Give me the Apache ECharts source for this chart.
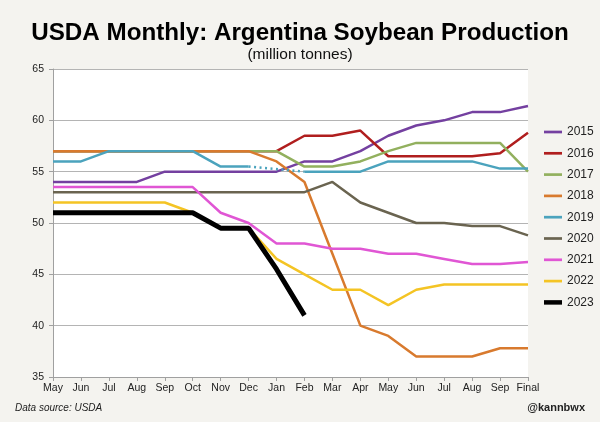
<!DOCTYPE html>
<html>
<head>
<meta charset="utf-8">
<script src="https://cdn.jsdelivr.net/npm/echarts@6/dist/echarts.min.js"></script>
<style>
  html, body { margin: 0; padding: 0; background: #f4f3ef; }
  #chart { width: 600px; height: 422px; }
</style>
</head>
<body>
<div id="chart"></div>
<script>
// USDA monthly estimates, Argentina soybean production (million tonnes)
const months = ['May', 'Jun', 'Jul', 'Aug', 'Sep', 'Oct', 'Nov', 'Dec', 'Jan', 'Feb',
    'Mar', 'Apr', 'May ', 'Jun ', 'Jul ', 'Aug ', 'Sep ', 'Final'];
const years = ['2015', '2016', '2017', '2018', '2019', '2020', '2021', '2022', '2023'];

const y2015 = [54, 54, 54, 54, 55, 55, 55, 55, 55, 56, 56, 57, 58.5, 59.5, 60, 60.8, 60.8, 61.4];
const y2016 = [57, 57, 57, 57, 57, 57, 57, 57, 57, 58.5, 58.5, 59, 56.5, 56.5, 56.5, 56.5, 56.8, 58.8];
const y2017 = [57, 57, 57, 57, 57, 57, 57, 57, 57, 55.5, 55.5, 56, 57, 57.8, 57.8, 57.8, 57.8, 55];
const y2018 = [57, 57, 57, 57, 57, 57, 57, 57, 56, 54, 47, 40, 39, 37, 37, 37, 37.8, 37.8];
const y2019 = [56, 56, 57, 57, 57, 57, 55.5, 55.5, null, 55, 55, 55, 56, 56, 56, 56, 55.3, 55.3];
// Dec -> Feb dotted bridge for 2019 (no January estimate)
const y2019gap = [null, null, null, null, null, null, null, 55.5, null, 55, null, null, null, null, null, null, null, null];
const y2020 = [53, 53, 53, 53, 53, 53, 53, 53, 53, 53, 54, 52, 51, 50, 50, 49.7, 49.7, 48.8];
const y2021 = [53.5, 53.5, 53.5, 53.5, 53.5, 53.5, 51, 50, 48, 48, 47.5, 47.5, 47, 47, 46.5, 46, 46, 46.2];
const y2022 = [52, 52, 52, 52, 52, 51, 49.5, 49.5, 46.5, 45, 43.5, 43.5, 42, 43.5, 44, 44, 44, 44];
const y2023 = [51, 51, 51, 51, 51, 51, 49.5, 49.5, 45.5, 41];

const yTicks = { min: 35, max: 65, interval: 5 };
const colors = ['#7440a0', '#b01e1e', '#92b05e', '#d87a2e', '#4ba3bd', '#6a6450', '#e056d4', '#f4c424', '#000000'];

const seriesData = [y2015, y2016, y2017, y2018, y2019, y2020, y2021, y2022, y2023];

const chart = echarts.init(document.getElementById('chart'));

const series = seriesData.map((d, i) => ({
    name: years[i],
    type: 'line',
    data: d,
    symbol: 'none',
    connectNulls: false,
    z: 2 + i,
    lineStyle: {
        width: years[i] === '2023' ? 5 : 2.5,
        color: colors[i]
    },
    itemStyle: { color: colors[i] }
}));
series.splice(5, 0, {
    name: '2019 gap',
    type: 'line',
    data: y2019gap,
    symbol: 'none',
    connectNulls: true,
    z: 6,
    lineStyle: { width: 2.5, color: colors[4], type: [2, 3.5] }
});

const option = {
    backgroundColor: '#f4f3ef',
    animation: false,
    title: [
        {
            text: 'USDA Monthly: Argentina Soybean Production',
            left: 'center',
            top: 16,
            textStyle: { fontFamily: 'Liberation Sans', fontWeight: 'bold', fontSize: 24.2, color: '#000' }
        },
        {
            text: '(million tonnes)',
            left: 'center',
            top: 42,
            textStyle: { fontFamily: 'Liberation Sans', fontWeight: 'normal', fontSize: 15.5, color: '#111' }
        },
        {
            text: 'Data source: USDA',
            left: 10,
            top: 398,
            textStyle: { fontFamily: 'Liberation Sans', fontStyle: 'italic', fontWeight: 'normal', fontSize: 10, color: '#222' }
        },
        {
            text: '@kannbwx',
            right: 10,
            top: 397,
            textStyle: { fontFamily: 'Liberation Sans', fontWeight: 'bold', fontSize: 11, color: '#222' }
        }
    ],
    legend: {
        orient: 'vertical',
        left: 544,
        top: 125,
        padding: 0,
        itemWidth: 18,
        itemHeight: 5,
        itemGap: 7.3,
        textStyle: { fontFamily: 'Liberation Sans', fontSize: 12, color: '#222', lineHeight: 14 },
        data: years.map(y => ({
            name: y,
            icon: y === '2023' ? 'path://M0,0H20V5H0Z' : 'path://M0,0H20V3H0Z'
        }))
    },
    grid: {
        left: 53,
        right: 72,
        top: 69,
        bottom: 45,
        show: true,
        backgroundColor: '#ffffff',
        borderWidth: 0
    },
    xAxis: {
        type: 'category',
        boundaryGap: false,
        data: months,
        axisLine: { lineStyle: { color: '#a0a0a0' } },
        axisTick: { show: true, length: 4, interval: 0, lineStyle: { color: '#a0a0a0' } },
        axisLabel: {
            interval: 0,
            margin: 6,
            fontFamily: 'Liberation Sans',
            fontSize: 10.5,
            color: '#222',
            formatter: v => v.trim()
        },
        splitLine: { show: false }
    },
    yAxis: {
        type: 'value',
        min: yTicks.min,
        max: yTicks.max,
        interval: yTicks.interval,
        axisLine: { show: true, lineStyle: { color: '#a0a0a0' } },
        axisTick: { show: true, length: 4, lineStyle: { color: '#a0a0a0' } },
        axisLabel: { margin: 9, fontFamily: 'Liberation Sans', fontSize: 10.5, color: '#222' },
        splitLine: { lineStyle: { color: '#b4b4b4', width: 1 } }
    },
    series: series
};

chart.setOption(option);
</script>
</body>
</html>
